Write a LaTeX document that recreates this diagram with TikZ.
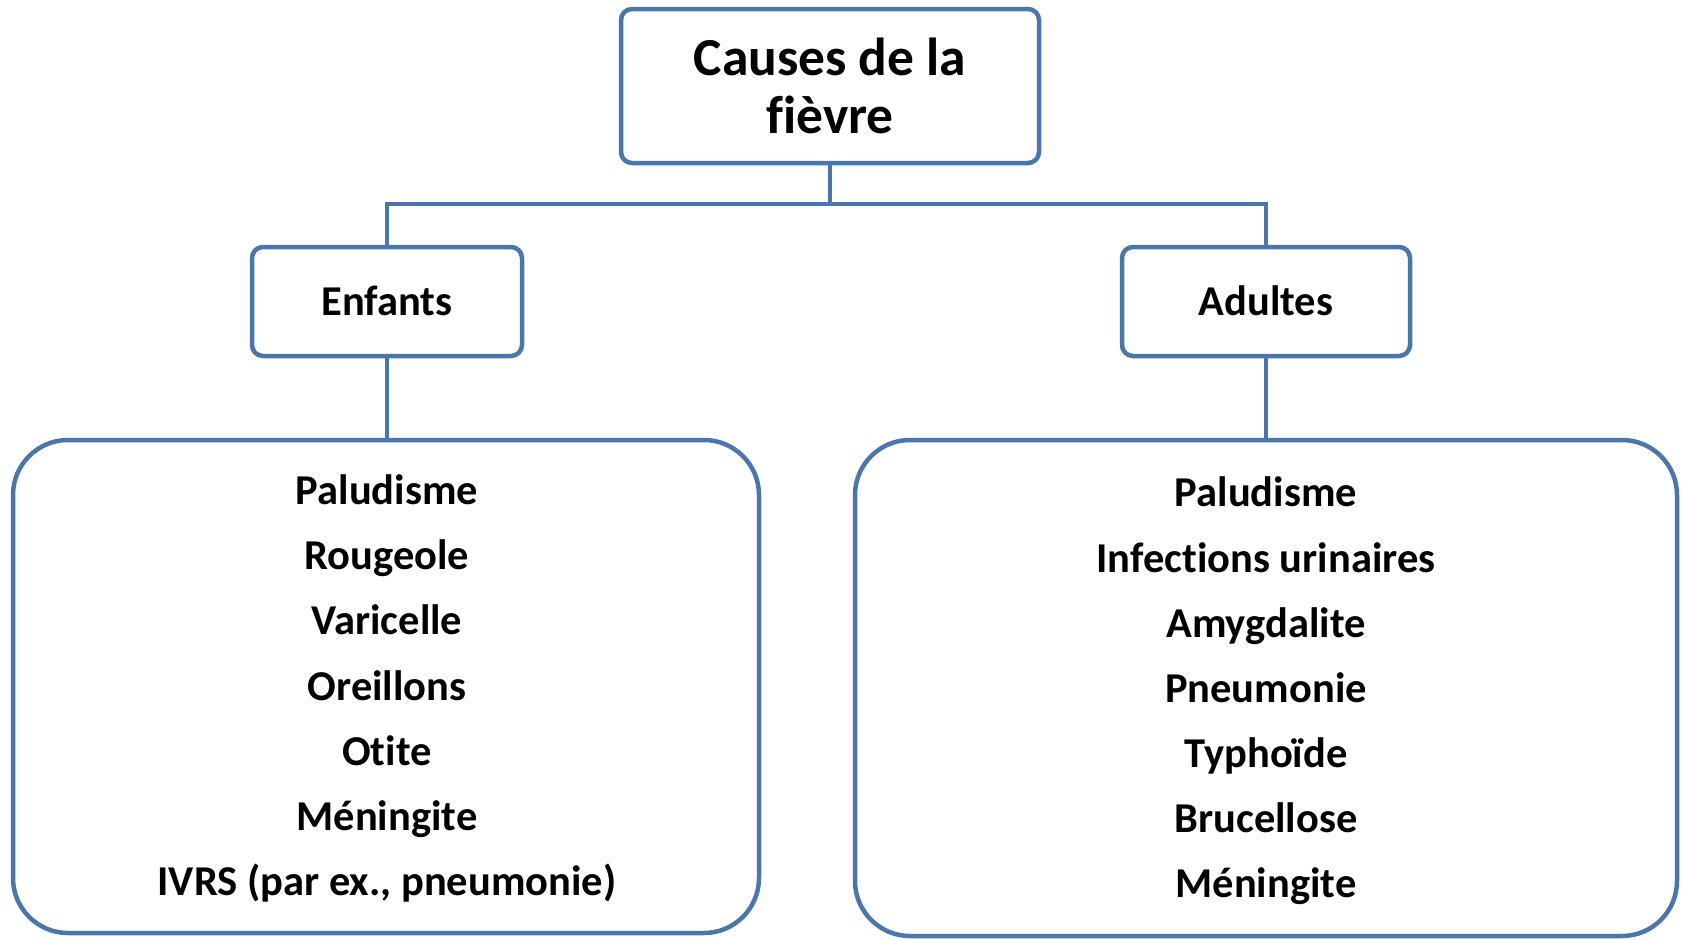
\documentclass[tikz,border=0pt]{standalone}
\usepackage{fontspec}
\setmainfont[Ligatures=NoCommon]{Carlito}
\definecolor{edge}{RGB}{74,118,170}
\tikzset{
  box/.style={draw=edge, line width=4.5pt, fill=white, rounded corners=11pt, inner sep=0pt},
  big/.style={draw=edge, line width=4.5pt, fill=white, rounded corners=55pt, inner sep=0pt},
  link/.style={draw=edge, line width=4.5pt},
  item/.style={font=\fontsize{42.5}{47}\selectfont\bfseries, anchor=base, inner sep=0pt},
  title/.style={font=\fontsize{53.5}{58}\selectfont\bfseries, anchor=base, inner sep=0pt},
}
\begin{document}
\begin{tikzpicture}[x=1pt,y=-1pt]
\useasboundingbox (0,0) rectangle (1682,940);
% boxes
\node[box, minimum width=418pt, minimum height=154pt] (top) at (830,86) {};
\node[box, minimum width=270pt, minimum height=109pt] (enf) at (387,301.5) {};
\node[box, minimum width=288pt, minimum height=109pt] (adu) at (1266,301.5) {};
\node[big, minimum width=746pt, minimum height=493pt] (lbox) at (386,686.5) {};
\node[big, minimum width=822pt, minimum height=496pt] (rbox) at (1266,688) {};
% connectors
\coordinate (j) at (830,204);
\draw[link] (top.south) -- (j);
\draw[link] (enf.north) |- (j) -| (adu.north);
\draw[link] (enf.south) -- (enf.south |- lbox.north);
\draw[link] (adu.south) -- (rbox.north);
% texts
\node[title] (t1) at (830,75) {Causes de la};
\node[title] (t2) at (830,133) {fièvre};
\node[item] (enft) at (387,315) {Enfants};
\node[item] (adut) at (1266,315) {Adultes};
% left list
\node[item] (l1) at (387,504) {Paludisme};
\node[item] (l2) at (387,569) {Rougeole};
\node[item] (l3) at (387,634) {Varicelle};
\node[item] (l4) at (387,700) {Oreillons};
\node[item] (l5) at (387,765) {Otite};
\node[item] (l6) at (387,830) {Méningite};
\node[item] (l7) at (387,895) {IVRS (par ex., pneumonie)};
% right list
\node[item] (r1) at (1266,506) {Paludisme};
\node[item] (r2) at (1266,572) {Infections urinaires};
\node[item] (r3) at (1266,637) {Amygdalite};
\node[item] (r4) at (1266,702) {Pneumonie};
\node[item] (r5) at (1266,767) {Typhoïde};
\node[item] (r6) at (1266,832) {Brucellose};
\node[item] (r7) at (1266,897) {Méningite};
\end{tikzpicture}
\end{document}
